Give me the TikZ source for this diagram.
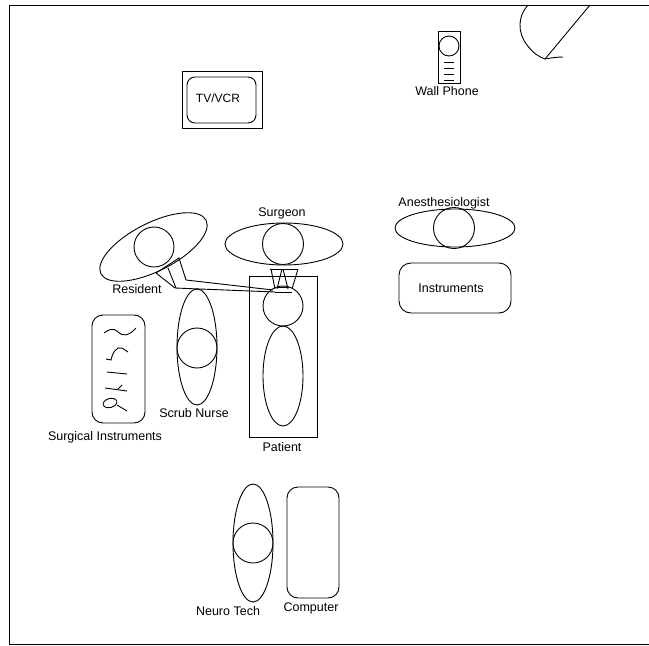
\documentclass[tikz,border=0pt]{standalone}
\usepackage{fontspec}
\setmainfont{Liberation Sans}
\tikzset{
  ln/.style={draw=black,line width=0.9pt},
  lab/.style={font=\fontsize{12.5}{14}\selectfont,inner sep=0pt,text=black},
}
\begin{document}
\begin{tikzpicture}[x=1pt,y=-1pt]
\useasboundingbox (0,0) rectangle (649,646);
\fill[white] (0,0) rectangle (649,646);
% frame
\draw[ln] (649,644) -- (9,644) -- (9,5) -- (649,5);
% door
\draw[ln] (528,5) .. controls (518,16) and (517,32) .. (527,45) .. controls (533,53) and (539,57) .. (545,59) .. controls (551,58) and (556,57) .. (563,57);
\draw[ln] (590,5) -- (545,59);
% wall phone
\draw[ln] (438,31) rectangle (460,83);
\draw[ln] (449,46) circle (10);
\foreach \y in {62,68,74,80} \draw[ln] (444,\y) -- (454,\y);
\node[lab] (wp) at (447,91) {Wall Phone};
% TV
\draw[ln] (182,71) rectangle (262,128);
\draw[ln,rounded corners=8pt] (187,77) rectangle (256,123);
\node[lab,font=\fontsize{12}{14}\selectfont] (tv) at (218,98) {TV/VCR};
% Surgeon
\draw[ln] (284,244) ellipse (59 and 21);
\draw[ln] (283,244) circle (20.5);
\node[lab] (su) at (282,213) {Surgeon};
% Anesthesiologist
\draw[ln] (455,228) ellipse (60 and 19);
\draw[ln] (454,228) circle (20.5);
\node[lab] (an) at (444,203) {Anesthesiologist};
% Instruments
\draw[ln,rounded corners=12pt] (399,263) rectangle (511,313);
\node[lab] (in) at (451,288) {Instruments};
% Resident
\draw[ln,rotate around={27:(153.5,247)}] (153.5,247) ellipse (59 and 24);
\draw[ln] (154,247) circle (20);
\node[lab] (re) at (137,289) {Resident};
% Scrub nurse
\draw[ln] (197,347) ellipse (20 and 58);
\draw[ln] (197,348) circle (20);
\node[lab] (sn) at (194,413) {Scrub Nurse};
% Patient
\draw[ln] (249,276) rectangle (317,437);
\draw[ln] (283,306) circle (20);
\draw[ln] (283,376) ellipse (20 and 50);
\node[lab] (pa) at (282,447) {Patient};
% Surgical instruments
\draw[ln,rounded corners=11pt] (92,315) rectangle (145,423);
\node[lab] (si) at (105,437) {Surgical Instruments};
\draw[ln] (104,333) .. controls (108,330) and (113,327) .. (118,332) .. controls (122,336) and (128,337) .. (136,328);
\draw[ln] (106,359) -- (111,360) .. controls (112,354) and (116,346) .. (122,348) -- (128,352);
\draw[ln] (107,372) -- (127,374);
\draw[ln] (105,388) -- (127,391);
\draw[ln] (122,385) -- (118,389);
\draw[ln,rotate around={15:(110,403)}] (110,403) ellipse (7 and 4.5);
\draw[ln] (117,405) -- (127,411);
% Neuro tech
\draw[ln] (253,543) ellipse (20 and 59);
\draw[ln] (253,543) circle (20);
\node[lab] (nt) at (228,611) {Neuro Tech};
% Computer
\draw[ln,rounded corners=11pt] (287,487) rectangle (339,598);
\node[lab] (co) at (311,608) {Computer};
% microscope
\draw[ln] (270,269) -- (298,269);
\draw[ln] (271,269) -- (275,289);
\draw[ln] (282,269) -- (277,289);
\draw[ln] (283,269) -- (288,289);
\draw[ln] (298,269) -- (292,289);
\draw[ln] (277,287) -- (289,287);
\draw[ln] (275,292) -- (292,292);
\draw[ln] (156,273) -- (179,258) -- (186,280) -- (273,290);
\draw[ln] (156,273) -- (175,288) -- (275,292);
\draw[ln] (168,268) -- (176,288);
\end{tikzpicture}
\end{document}
